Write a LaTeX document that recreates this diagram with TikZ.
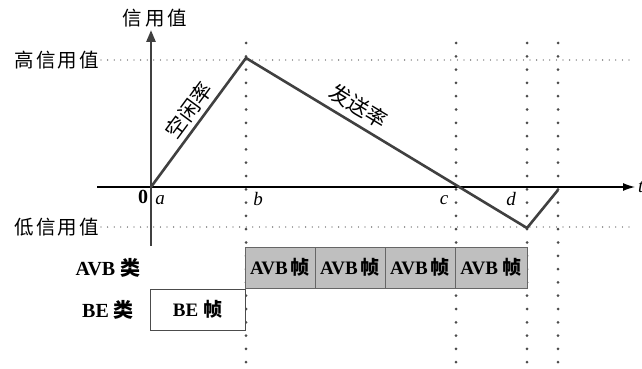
\documentclass[tikz,border=0pt]{standalone}
\usepackage{fontspec}
\setmainfont{Liberation Serif}
\newfontfamily\cjk{Noto Sans CJK SC}
\usetikzlibrary{arrows.meta}
\begin{document}
\begin{tikzpicture}[x=1pt,y=-1pt,
  curve/.style={draw=black!75,line width=2.6pt,line join=miter},
  vdots/.style={draw=black!70,line width=3pt,line cap=round,dash pattern=on 0pt off 13.3pt},
  hdots/.style={draw=black!70,line width=1.3pt,line cap=round,dash pattern=on 0pt off 6.6pt},
  cn/.style={font=\cjk\fontsize{19.5}{19.5}\selectfont,inner sep=0pt},
  rowlab/.style={font=\bfseries\fontsize{20}{20}\selectfont,inner sep=0pt},
  avbbox/.style={draw=black!60,fill=black!25,line width=1pt,minimum width=70pt,minimum height=41pt,inner sep=0pt,font=\bfseries\fontsize{19}{19}\selectfont},
  bebox/.style={draw=black!70,fill=white,line width=0.8pt,minimum width=95pt,minimum height=41pt,inner sep=0pt,font=\bfseries\fontsize{19}{19}\selectfont},
  tick/.style={font=\itshape\fontsize{19}{19}\selectfont,inner sep=0pt}
]
\useasboundingbox (0,0) rectangle (642,369);
% coordinates
\coordinate (O) at (151,187);
\coordinate (ytop) at (151,30);
\coordinate (ybot) at (151,246);
\coordinate (xl) at (97,187);
\coordinate (xr) at (635,187);
\coordinate (P1) at (246,58);
\coordinate (P2) at (527,228);
\coordinate (P3) at (558,190);
% dotted level lines
\draw[hdots] (101,60) -- (630,60);
\draw[hdots] (101,227) -- (630,227);
% vertical dotted lines
\foreach \x in {246,456,527,558} \draw[vdots] (\x,43) -- (\x,369);
% axes
\draw[line width=1.2pt,-{Latex[length=12pt,width=8pt]}] (xl) -- (xr);
\draw[draw=black!75,line width=2.6pt,-{Triangle[length=12pt,width=9pt]}] (ybot) -- (ytop);
% credit curve
\draw[curve] (O) -- (P1) -- (P2) -- (P3);
% axis labels
\node[cn] (ylab) at (155,18) {信\hspace{3pt}用\hspace{3pt}值};
\node[cn,anchor=east] (hi) at (99,60) {高\hspace{2pt}信\hspace{2pt}用\hspace{2pt}值};
\node[cn,anchor=east] (lo) at (99,227) {低\hspace{2pt}信\hspace{2pt}用\hspace{2pt}值};
\node[tick,anchor=west] (t) at (638,187) {t};
\node[font=\bfseries\fontsize{20}{20}\selectfont,inner sep=0pt] (zero) at (143,197) {0};
\node[tick] (la) at (160,200) {a};
\node[tick] (lb) at (258,199) {b};
\node[tick] (lc) at (444,200) {c};
\node[tick] (ld) at (511,199) {d};
% slope labels
\node[cn,rotate=53.6,font=\cjk\fontsize{21}{21}\selectfont] (idle) at (189,110) {空闲率};
\node[cn,rotate=-31.2,font=\cjk\fontsize{21}{21}\selectfont] (send) at (359,106) {发送率};
% rows
\node[rowlab] (avbl) at (108,268) {AVB {\cjk 类}};
\node[rowlab] (bel) at (108,310) {BE {\cjk 类}};
\node[avbbox] (f1) at (280,267.5) {AVB\,{\cjk 帧}};
\node[avbbox] (f2) at (350,267.5) {AVB\,{\cjk 帧}};
\node[avbbox] (f3) at (420,267.5) {AVB\,{\cjk 帧}};
\node[avbbox,minimum width=72pt] (f4) at (491,267.5) {AVB {\cjk 帧}};
\node[bebox] (be) at (197.5,309.5) {BE {\cjk 帧}};
\end{tikzpicture}
\end{document}
